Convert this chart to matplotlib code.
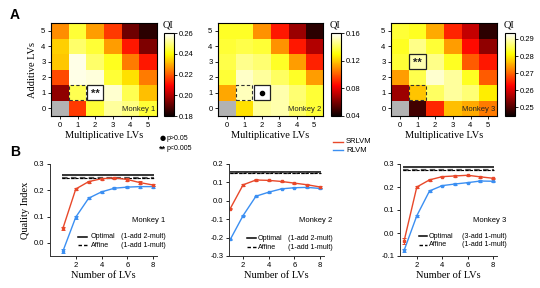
import numpy as np
import matplotlib
matplotlib.use("Agg")
import matplotlib.pyplot as plt
from matplotlib.patches import Rectangle
from matplotlib.lines import Line2D

# ---------------- data ----------------
lv_ticks = [0, 1, 2, 3, 4, 5]
# QI maps, rows = additive LVs 0..5, cols = multiplicative LVs 0..5 (nan = not fitted)
qi_m1 = [
    [np.nan, 0.216, 0.244, 0.252, 0.250, 0.244],
    [0.196, 0.246, 0.260, 0.256, 0.246, 0.232],
    [0.218, 0.258, 0.257, 0.244, 0.236, 0.224],
    [0.233, 0.258, 0.248, 0.242, 0.224, 0.212],
    [0.234, 0.248, 0.244, 0.228, 0.212, 0.194],
    [0.226, 0.244, 0.228, 0.216, 0.192, 0.184],
]
qi_m2 = [
    [np.nan, 0.124, 0.148, 0.150, 0.142, 0.136],
    [0.114, 0.152, 0.160, 0.150, 0.143, 0.136],
    [0.136, 0.153, 0.148, 0.141, 0.134, 0.112],
    [0.138, 0.146, 0.143, 0.134, 0.112, 0.090],
    [0.136, 0.138, 0.136, 0.110, 0.088, 0.070],
    [0.134, 0.134, 0.110, 0.088, 0.066, 0.046],
]
qi_m3 = [
    [np.nan, 0.249, 0.2655, 0.2765, 0.275, 0.2717],
    [0.2557, 0.277, 0.2858, 0.2887, 0.2867, 0.2799],
    [0.274, 0.2848, 0.2911, 0.2887, 0.2828, 0.2693],
    [0.2838, 0.2896, 0.2877, 0.2828, 0.2693, 0.2644],
    [0.2828, 0.2877, 0.2838, 0.274, 0.2634, 0.2547],
    [0.2838, 0.2828, 0.275, 0.2654, 0.2586, 0.2475],
]
cb_ticks_m1 = [0.18, 0.20, 0.22, 0.24, 0.26]
cb_ticks_m2 = [0.04, 0.08, 0.12, 0.16]
cb_ticks_m3 = [0.25, 0.26, 0.27, 0.28, 0.29]
clim_m1 = (0.18, 0.26)
clim_m2 = (0.04, 0.16)
clim_m3 = (0.245, 0.2935)
best_cell = [(2, 1, "**"), (2, 1, "dot"), (1, 3, "**")]   # (mult, add, mark)
affine_cell = (1, 1)

n_lvs = [1, 2, 3, 4, 5, 6, 7, 8]
srlvm_m1 = [0.055, 0.205, 0.233, 0.244, 0.247, 0.241, 0.229, 0.220]
rlvm_m1 = [-0.032, 0.098, 0.170, 0.194, 0.208, 0.212, 0.214, 0.214]
srlvm_m1_err = [0.007, 0.005, 0.004, 0.004, 0.004, 0.005, 0.006, 0.005]
rlvm_m1_err = [0.008, 0.006, 0.004, 0.004, 0.004, 0.004, 0.004, 0.004]
opt_m1, aff_m1 = 0.260, 0.247

srlvm_m2 = [-0.042, 0.087, 0.113, 0.111, 0.105, 0.096, 0.087, 0.075]
rlvm_m2 = [-0.210, -0.080, 0.025, 0.047, 0.065, 0.071, 0.073, 0.067]
srlvm_m2_err = [0.005, 0.004, 0.003, 0.003, 0.003, 0.003, 0.003, 0.003]
rlvm_m2_err = [0.005, 0.004, 0.003, 0.003, 0.003, 0.003, 0.003, 0.003]
opt_m2, aff_m2 = 0.155, 0.151

srlvm_m3 = [-0.035, 0.200, 0.231, 0.245, 0.248, 0.251, 0.244, 0.238]
rlvm_m3 = [-0.076, 0.075, 0.183, 0.206, 0.213, 0.219, 0.226, 0.225]
srlvm_m3_err = [0.013, 0.004, 0.003, 0.003, 0.003, 0.003, 0.003, 0.003]
rlvm_m3_err = [0.006, 0.004, 0.003, 0.003, 0.003, 0.003, 0.003, 0.003]
opt_m3, aff_m3 = 0.289, 0.276

opt_cfg = ["(1-add 2-mult)", "(1-add 2-mult)", "(3-add 1-mult)"]
aff_cfg = "(1-add 1-mult)"
monkeys = ["Monkey 1", "Monkey 2", "Monkey 3"]

# ---------------- style ----------------
SANS = "Liberation Sans"
SERIF = "Liberation Serif"
RED = "#e8482a"
BLUE = "#3b8ff2"
TFS = 5.5
LFS = 5.1

W, H = 540, 288
fig = plt.figure(figsize=(W / 100, H / 100), dpi=100)

def ax_px(l, t, r, b):
    return fig.add_axes([l / W, 1 - b / H, (r - l) / W, (b - t) / H])

cmap = plt.get_cmap("hot").copy()
cmap.set_bad("#b2b2b2")

heat_pos = [(51, 23, 157, 116), (218, 23, 323, 116), (391, 23, 497, 116)]
cb_pos = [(164, 33, 174, 116), (331, 33, 341, 116), (505, 33, 515, 116)]
maps = [qi_m1, qi_m2, qi_m3]
clims = [clim_m1, clim_m2, clim_m3]
cbt = [cb_ticks_m1, cb_ticks_m2, cb_ticks_m3]

for i in range(3):
    ax = ax_px(*heat_pos[i])
    data = np.array(maps[i], dtype=float)
    im = ax.imshow(np.ma.masked_invalid(data), cmap=cmap, origin="lower",
                   vmin=clims[i][0], vmax=clims[i][1], aspect="auto",
                   interpolation="nearest")
    ax.set_xticks(lv_ticks)
    ax.set_yticks(lv_ticks)
    ax.tick_params(labelsize=TFS, length=2, width=0.6, pad=2)
    for lab in ax.get_xticklabels() + ax.get_yticklabels():
        lab.set_fontfamily(SANS)
    for s in ax.spines.values():
        s.set_linewidth(0.8)
    ax.set_xlabel("Multiplicative LVs", fontfamily=SERIF, fontsize=7.5, labelpad=2)
    if i == 0:
        ax.set_ylabel("Additive LVs", fontfamily=SERIF, fontsize=7.5, labelpad=3)
    # boxes
    ax.add_patch(Rectangle((affine_cell[0] - 0.47, affine_cell[1] - 0.47), 0.94, 0.94,
                           fill=False, ec="#333333", lw=0.8, ls=(0, (3, 2))))
    bx, by, mk = best_cell[i]
    ax.add_patch(Rectangle((bx - 0.47, by - 0.47), 0.94, 0.94,
                           fill=False, ec="#222222", lw=0.9))
    if mk == "**":
        ax.text(bx, by - 0.05, "**", ha="center", va="center", fontsize=8,
                fontweight="bold", fontfamily=SANS, color="#222222")
    else:
        ax.plot([bx], [by], "o", color="black", ms=3)
    ax.text(5.4, -0.05, monkeys[i], ha="right", va="center", fontsize=5.5,
            fontfamily=SANS, color="#222222")
    # colorbar
    cax = ax_px(*cb_pos[i])
    cb = fig.colorbar(im, cax=cax, ticks=cbt[i])
    cb.outline.set_linewidth(0.8)
    cax.tick_params(labelsize=TFS, length=2, width=0.6, pad=1.5)
    cax.set_yticklabels([f"{t:.2f}" for t in cbt[i]], fontfamily=SANS)
    fig.text((cb_pos[i][0] - 1) / W, 1 - 25 / H, "QI", fontfamily=SERIF,
             fontsize=7.5, ha="left", va="center")

# p-value legend
fig.text(162.5 / W, 1 - 138 / H, "●", fontsize=5, ha="center", va="center",
         fontfamily="DejaVu Sans")
fig.text(167 / W, 1 - 138 / H, "p>0.05", fontsize=5, ha="left", va="center",
         fontfamily=SANS)
fig.text(162.5 / W, 1 - 149 / H, "**", fontsize=6.5, ha="center", va="center",
         fontfamily=SANS, fontweight="bold")
fig.text(167 / W, 1 - 149 / H, "p<0.005", fontsize=5, ha="left", va="center",
         fontfamily=SANS)

# model legend
fig.lines.append(Line2D([333 / W, 343 / W], [1 - 141.5 / H, 1 - 141.5 / H],
                        color=RED, lw=1.0, transform=fig.transFigure))
fig.lines.append(Line2D([333 / W, 343 / W], [1 - 150 / H, 1 - 150 / H],
                        color=BLUE, lw=1.0, transform=fig.transFigure))
fig.text(346 / W, 1 - 141.5 / H, "SRLVM", fontsize=5.5, ha="left", va="center",
         fontfamily=SANS)
fig.text(346 / W, 1 - 150 / H, "RLVM", fontsize=5.5, ha="left", va="center",
         fontfamily=SANS)

# panel letters
fig.text(10 / W, 1 - 15 / H, "A", fontsize=10, fontweight="bold", fontfamily=SANS,
         ha="left", va="center")
fig.text(10 / W, 1 - 152 / H, "B", fontsize=10, fontweight="bold", fontfamily=SANS,
         ha="left", va="center")

# ---------------- panel B ----------------
line_pos = [(50, 164, 157, 256), (229, 164, 324, 256), (400, 164, 497, 256)]
xlims = [(0.0, 8.3), (0.9, 8.3), (0.68, 8.3)]
ylims = [(-0.05, 0.3), (-0.3, 0.2), (-0.1, 0.3)]
yticks = [[0.0, 0.1, 0.2, 0.3], [-0.3, -0.2, -0.1, 0.0, 0.1, 0.2],
          [-0.1, 0.0, 0.1, 0.2, 0.3]]
sr = [srlvm_m1, srlvm_m2, srlvm_m3]
rl = [rlvm_m1, rlvm_m2, rlvm_m3]
sre = [srlvm_m1_err, srlvm_m2_err, srlvm_m3_err]
rle = [rlvm_m1_err, rlvm_m2_err, rlvm_m3_err]
opts = [opt_m1, opt_m2, opt_m3]
affs = [aff_m1, aff_m2, aff_m3]
# legend placement in pixels: (handle start, handle end, text start, text right, y1, y2)
leg_px = [(78, 87, 90.5, 165.5, 236.7, 245.3),
          (246.7, 256, 257.7, 332.5, 238.3, 247.3),
          (419.3, 427.3, 428.7, 506.5, 236.3, 245.0)]

for i in range(3):
    ax = ax_px(*line_pos[i])
    ax.hlines(opts[i], 0.95, 8.05, color="black", lw=1.1)
    ax.hlines(affs[i], 0.95, 8.05, color="#555555", lw=1.6, ls=(0, (2.5, 1.5)))
    ax.hlines(affs[i], 0.95, 8.05, color="black", lw=0.8, ls=(0, (2.5, 1.5)))
    ax.errorbar(n_lvs, rl[i], yerr=rle[i], color=BLUE, lw=1.0, marker="s", ms=1.8,
                capsize=1.2, elinewidth=0.7, capthick=0.7)
    ax.errorbar(n_lvs, sr[i], yerr=sre[i], color=RED, lw=1.0, marker="s", ms=1.8,
                capsize=1.2, elinewidth=0.7, capthick=0.7)
    ax.set_xlim(*xlims[i])
    ax.set_ylim(*ylims[i])
    ax.set_xticks([2, 4, 6, 8])
    ax.set_yticks(yticks[i])
    ax.set_yticklabels([f"{t:.1f}" for t in yticks[i]])
    for s in ["top", "right"]:
        ax.spines[s].set_visible(False)
    for s in ["left", "bottom"]:
        ax.spines[s].set_linewidth(0.7)
        ax.spines[s].set_color("#333333")
    ax.tick_params(labelsize=TFS, length=2, width=0.6, pad=2)
    for lab in ax.get_xticklabels() + ax.get_yticklabels():
        lab.set_fontfamily(SANS)
    ax.set_xlabel("Number of LVs", fontfamily=SERIF, fontsize=7.5, labelpad=2)
    if i == 0:
        ax.set_ylabel("Quality Index", fontfamily=SERIF, fontsize=7.5, labelpad=3)
    hs, he, ts, tr, y1, y2 = leg_px[i]
    ax.text(tr / W, 1 - 221 / H, monkeys[i], transform=fig.transFigure, ha="right",
            va="center", fontsize=5.5, fontfamily=SANS)
    fig.lines.append(Line2D([hs / W, he / W], [1 - y1 / H] * 2, color="black",
                            lw=1.1, transform=fig.transFigure))
    fig.lines.append(Line2D([hs / W, he / W], [1 - y2 / H] * 2, color="black",
                            lw=1.0, ls=(0, (2.5, 1.5)), transform=fig.transFigure))
    fig.text(ts / W, 1 - y1 / H, "Optimal", fontsize=LFS, fontfamily=SANS,
             ha="left", va="center")
    fig.text(tr / W, 1 - y1 / H, opt_cfg[i], fontsize=LFS, fontfamily=SANS,
             ha="right", va="center")
    fig.text(ts / W, 1 - y2 / H, "Affine", fontsize=LFS, fontfamily=SANS,
             ha="left", va="center")
    fig.text(tr / W, 1 - y2 / H, aff_cfg, fontsize=LFS, fontfamily=SANS,
             ha="right", va="center")

fig.savefig("out.png", dpi=100)
